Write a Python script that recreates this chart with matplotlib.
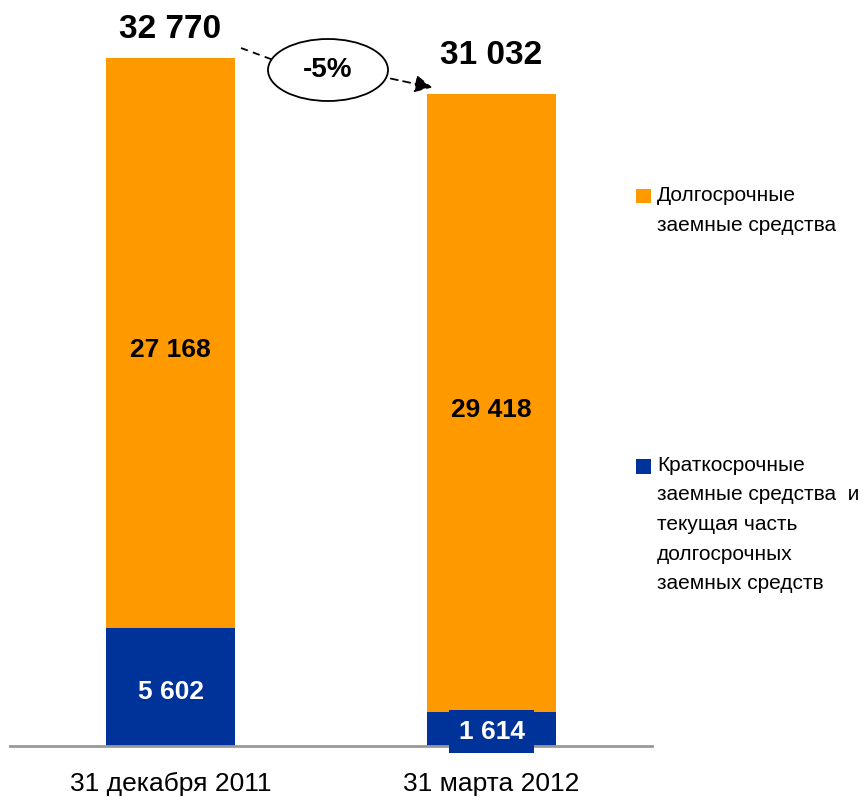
import matplotlib
matplotlib.use("Agg")
import matplotlib.pyplot as plt
from matplotlib.patches import Ellipse, Rectangle, FancyArrowPatch
from matplotlib.lines import Line2D

# Данные (млн) -------------------------------------------------------------
categories = ["31 декабря 2011", "31 марта 2012"]
short_term = [5602, 1614]
long_term = [27168, 29418]
change_label = "-5%"
legend_long = "Долгосрочные\nзаемные средства"
legend_short = ("Краткосрочные\nзаемные средства  и\nтекущая часть\n"
                "долгосрочных\nзаемных средств")

ORANGE = "#FF9900"
BLUE = "#003399"
FONT = ["Liberation Sans Narrow", "Liberation Sans", "DejaVu Sans"]
plt.rcParams["font.family"] = FONT


def fmt(v):
    return f"{v:,}".replace(",", " ")


W, H = 863, 802
fig = plt.figure(figsize=(W / 100, H / 100), dpi=100)

# axes: x de 10 a 652 px, base a y=746 px
ax = fig.add_axes([10 / W, (H - 746) / H, 642 / W, 726 / H])
x = [0, 1]
totals = [s + l for s, l in zip(short_term, long_term)]

ax.bar(x, short_term, width=0.4, color=BLUE, zorder=2)
ax.bar(x, long_term, width=0.4, bottom=short_term, color=ORANGE, zorder=2)

ax.set_xlim(-0.5, 1.5)
ax.set_ylim(0, 726 / (688 / 32770))
for s in ["top", "left", "right"]:
    ax.spines[s].set_visible(False)
ax.spines["bottom"].set_color("#999999")
ax.spines["bottom"].set_linewidth(2)
ax.set_yticks([])
ax.set_xticks(x)
ax.set_xticklabels(categories, fontsize=19)
ax.tick_params(axis="x", length=0, pad=19)

# valeurs dans les barres
for i in x:
    ax.annotate(fmt(long_term[i]), (i, short_term[i] + long_term[i] / 2),
                xytext=(0, -3), textcoords="offset points",
                ha="center", va="center_baseline", fontsize=19,
                fontweight="bold", color="black", zorder=3)
for i in x:
    if short_term[i] > 3000:
        ax.annotate(fmt(short_term[i]), (i, short_term[i] / 2),
                    xytext=(0, -2), textcoords="offset points", ha="center",
                    va="center_baseline", fontsize=19, fontweight="bold",
                    color="white", zorder=3)
    else:
        ax.text(i, short_term[i] / 2, fmt(short_term[i]), ha="center",
                va="center_baseline", fontsize=19, fontweight="bold",
                color="white", zorder=3,
                bbox=dict(boxstyle="square,pad=0.35", fc=BLUE, ec="none"))

# totaux
for i, off in zip(x, [13, 23]):
    ax.annotate(fmt(totals[i]), (i, totals[i]), xytext=(0, off * 0.72),
                textcoords="offset points", ha="center", va="bottom",
                fontsize=24, fontweight="bold")


# fleche -5%
def fp(px, py):
    return (px / W, 1 - py / H)


fig.add_artist(Line2D(*zip(fp(241, 48), fp(276, 61)), transform=fig.transFigure,
                      color="black", lw=1.3, ls=(0, (4, 3))))
fig.add_artist(FancyArrowPatch(fp(388, 78), fp(435, 88),
                               transform=fig.transFigure, arrowstyle="-|>",
                               mutation_scale=26, color="black", lw=1.3,
                               linestyle=(0, (4, 3))))
fig.add_artist(Ellipse(fp(328, 70), 120 / W, 62 / H, transform=fig.transFigure,
                       fc="white", ec="black", lw=1.3))
fig.text(*fp(328, 70), change_label, ha="center", va="center", fontsize=20,
         fontweight="bold")

# legende
fig.add_artist(Rectangle(fp(636, 203), 15 / W, 14 / H,
                         transform=fig.transFigure, fc=ORANGE, ec="none"))
fig.text(*fp(657, 186), legend_long, ha="left", va="top", fontsize=15,
         linespacing=1.75)
fig.add_artist(Rectangle(fp(636, 474), 15 / W, 15 / H,
                         transform=fig.transFigure, fc=BLUE, ec="none"))
fig.text(*fp(657, 456), legend_short, ha="left", va="top", fontsize=15,
         linespacing=1.7)

fig.savefig("out.png", dpi=100)
